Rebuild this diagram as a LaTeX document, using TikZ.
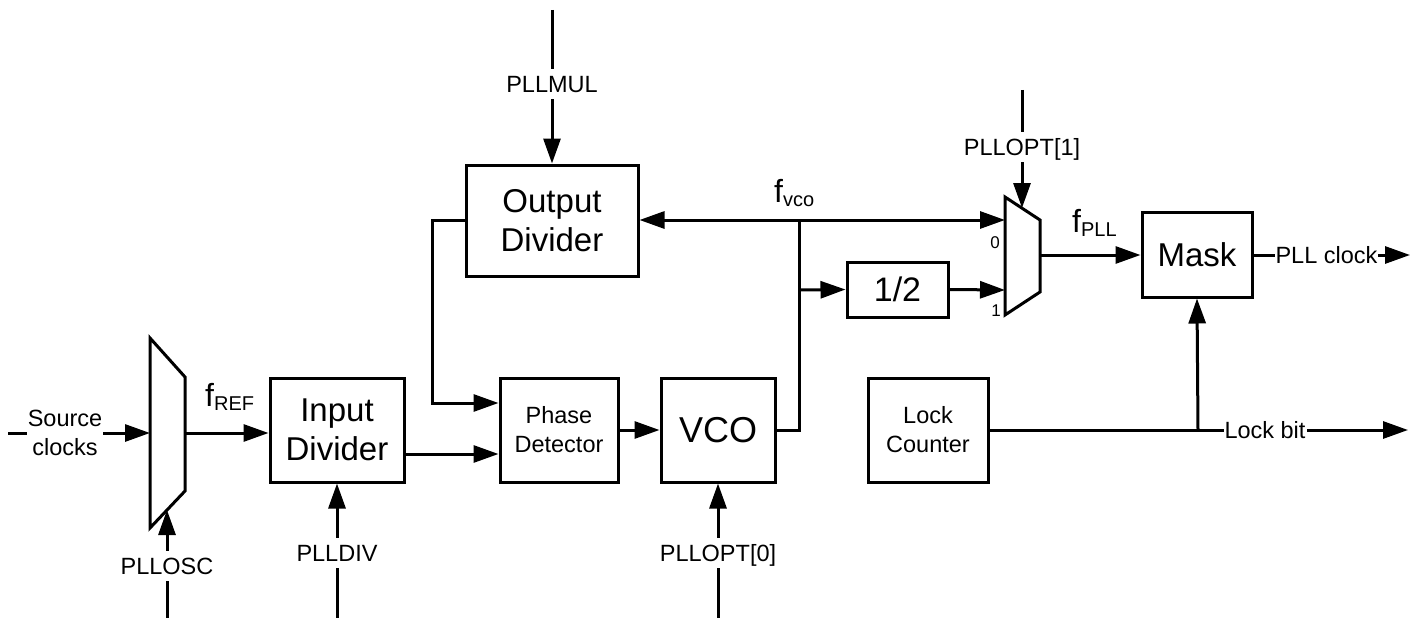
\documentclass[tikz,border=0pt]{standalone}
\usepackage{fontspec}
\setmainfont{Liberation Sans}
\usetikzlibrary{arrows.meta}
\newcommand\bigf{\fontsize{33}{39}\selectfont}
\newcommand\midf{\fontsize{23.5}{29}\selectfont}
\newcommand\smallf{\fontsize{17}{17}\selectfont}
\newcommand\freq[1]{{\fontsize{32}{32}\selectfont f\raisebox{-4pt}{\fontsize{20}{20}\selectfont #1}}}
\begin{document}
\begin{tikzpicture}[x=1pt,y=-1pt,
  box/.style={draw,line width=3pt,rectangle,inner sep=0pt,align=center},
  arr/.style={line width=3pt,-{Triangle[length=25pt,width=17pt]}},
  wire/.style={line width=3pt},
  lbl/.style={fill=white,inner xsep=1pt,inner ysep=6.5pt,text height=17pt,text depth=0pt,font=\midf},
  hlbl/.style={fill=white,inner xsep=1pt,inner ysep=2pt,font=\midf,align=center},
  freqlbl/.style={anchor=base west,inner sep=0pt}]
\useasboundingbox (0,0) rectangle (1417,618);
% boxes
\node[box,minimum width=134pt,minimum height=104pt,font=\bigf] (indiv) at (337,430) {Input\\Divider};
\node[box,minimum width=118pt,minimum height=104pt,font=\midf] (pd) at (559,430) {Phase\\Detector};
\node[box,minimum width=114pt,minimum height=104pt,font=\fontsize{36}{40}\selectfont] (vco) at (718,430) {VCO};
\node[box,minimum width=172pt,minimum height=111pt,font=\bigf] (outdiv) at (552,220.5) {Output\\Divider};
\node[box,minimum width=101pt,minimum height=55pt,font=\fontsize{34}{38}\selectfont] (half) at (897.5,289.5) {1/2};
\node[box,minimum width=110pt,minimum height=85pt,font=\bigf] (mask) at (1197,254.5) {Mask};
\node[box,minimum width=120pt,minimum height=104pt,font=\midf] (lockc) at (928,430) {Lock\\Counter};
% muxes
\draw[wire,line join=miter] (150,338) -- (185,377) -- (185,491) -- (150,528) -- cycle;
\draw[wire,line join=miter] (1005,197) -- (1040,220) -- (1040,292) -- (1005,315) -- cycle;
\coordinate (m1in) at (150,433);
\coordinate (m1out) at (185,433);
\coordinate (m1sel) at (167,510);
\coordinate (m2in0) at (1005,220);
\coordinate (m2in1) at (1005,290);
\coordinate (m2out) at (1040,255);
\coordinate (m2sel) at (1022,208);
\node[font=\smallf,inner sep=0pt] (zero) at (995,243) {0};
\node[font=\smallf,inner sep=0pt] (one) at (996,311) {1};
% free ends
\coordinate (src) at (8,433);
\coordinate (osc) at (167,618);
\coordinate (div) at (337,618);
\coordinate (opt0) at (718,618);
\coordinate (mul) at (552,10);
\coordinate (opt1) at (1022,90);
\coordinate (clkout) at (1410,255);
\coordinate (lockout) at (1408,430);
\coordinate (j1) at (799,220);
\coordinate (j2) at (799,290);
\coordinate (j3) at (1198,430);
\coordinate (fb) at (432,403);
% connectors
\draw[arr] (src) -- (m1in);
\draw[arr] (osc) -- (m1sel);
\draw[arr] (m1out) -- (m1out -| indiv.west);
\draw[arr] (div) -- (indiv.south);
\draw[arr] (indiv.east |- 0,454) -- (pd.west |- 0,454);
\draw[arr] (outdiv.west) -| (fb) -- (fb -| pd.west);
\draw[arr] (pd.east) -- (vco.west);
\draw[arr] (opt0) -- (vco.south);
\draw[wire] (vco.east) -| (j1);
\draw[arr] (j1) -- (j1 -| outdiv.east);
\draw[arr] (j1) -- (m2in0);
\draw[arr] (j2) -- (half.west);
\draw[arr] (half.east) -- (m2in1);
\draw[arr] (mul) -- (outdiv.north);
\draw[arr] (opt1) -- (m2sel);
\draw[arr] (m2out) -- (m2out -| mask.west);
\draw[arr] (mask.east |- clkout) -- (clkout);
\draw[arr] (lockc.east) -- (lockout);
\draw[arr] (j3) -- (mask.south);
% labels
\node[hlbl] (lsrc) at (65,433) {Source\\clocks};
\node[lbl] (losc) at (167,566) {PLLOSC};
\node[lbl] (ldiv) at (337,553) {PLLDIV};
\node[lbl] (lopt0) at (718,553) {PLLOPT[0]};
\node[lbl] (lmul) at (552,84) {PLLMUL};
\node[lbl] (lopt1) at (1022,147) {PLLOPT[1]};
\node[hlbl] (lclk) at (1326.5,255) {PLL clock};
\node[hlbl] (llock) at (1265,430) {Lock bit};
\node[freqlbl] (fref) at (205,406) {\freq{REF}};
\node[freqlbl] (fvco) at (774,202) {\freq{vco}};
\node[freqlbl] (fpll) at (1072,232) {\freq{PLL}};
\end{tikzpicture}
\end{document}
